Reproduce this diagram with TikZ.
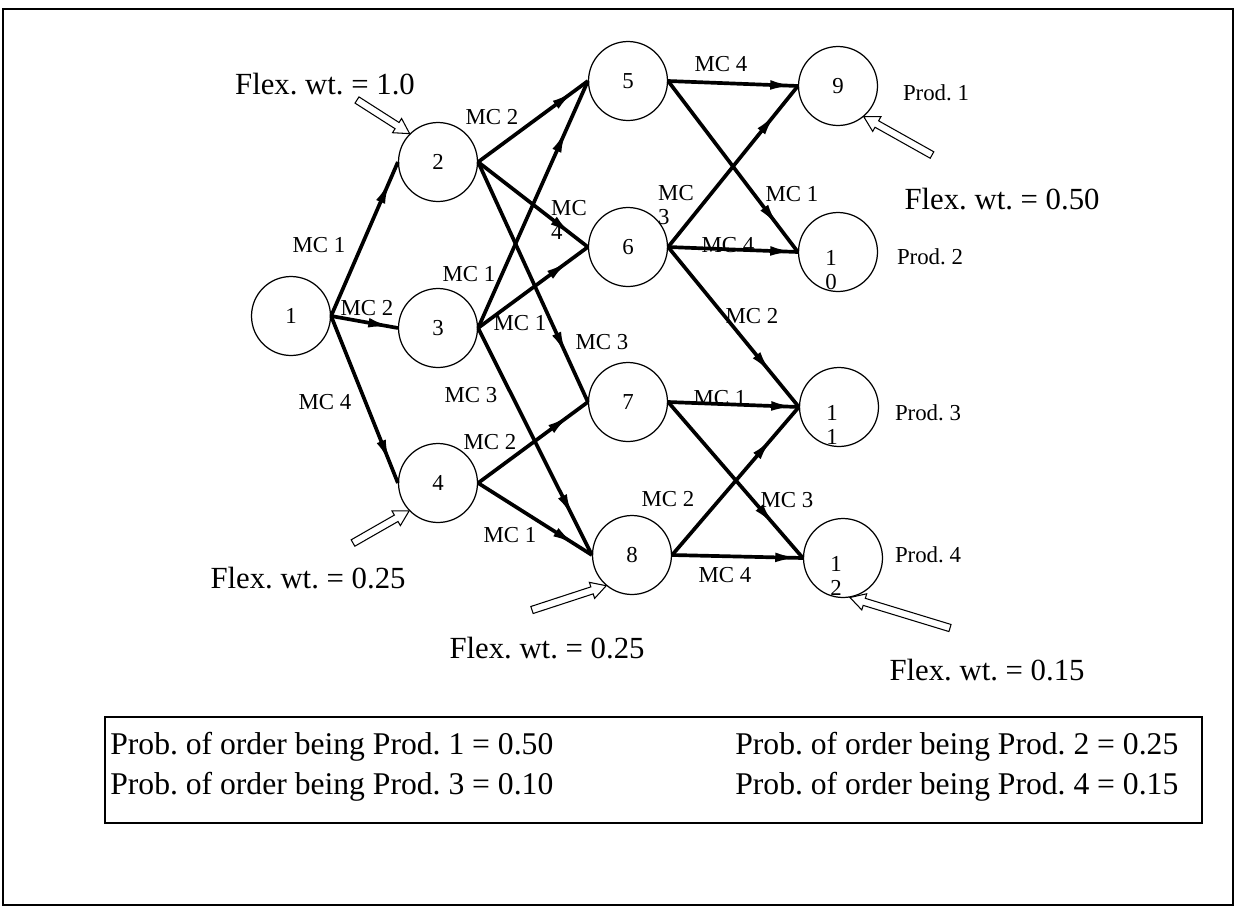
\documentclass[tikz,border=0pt]{standalone}
\usepackage{fontspec}
\setmainfont{Liberation Serif}
\usetikzlibrary{arrows.meta,decorations.markings,calc}
\frenchspacing
\newcommand\flexarrow[2]{%
  \coordinate (hb) at ($(#2)!8.5pt!(#1)$);
  \draw[line width=0.6pt, fill=white]
    ($(#1)!2.1pt!90:(#2)$) -- ($(hb)!2.1pt!90:(#2)$) -- ($(hb)!4.8pt!90:(#2)$) -- (#2)
    -- ($(hb)!4.8pt!-90:(#2)$) -- ($(hb)!2.1pt!-90:(#2)$) -- ($(#1)!2.1pt!-90:(#2)$) -- cycle;}
\begin{document}
\begin{tikzpicture}[x=0.02cm,y=-0.02cm,
  circ/.style={circle, draw, line width=0.7pt, minimum size=1.58cm, inner sep=0pt, font=\fontsize{13}{15}\selectfont},
  lab/.style={font=\fontsize{13}{13.5}\selectfont, inner sep=0pt},
  flex/.style={font=\fontsize{17.5}{20}\selectfont, inner sep=0pt},
  prob/.style={font=\fontsize{18}{20}\selectfont, inner sep=0pt, anchor=west},
  mcarrow/.style={line width=2.1pt, postaction={decorate},
    decoration={markings, mark=at position #1 with {\arrow{Latex[length=0.5cm,width=0.19cm]}}}},
  mcarrow/.default=0.85,
  stk/.style={label={[lab, align=center, xshift=-0.14cm, yshift=-0.36cm]center:#1}}
]
\useasboundingbox (0,0) rectangle (1238,910);
\draw[line width=1.2pt] (3,9) rectangle (1233,905);

% nodes
\node[circ] (n1) at (291,316) {1};
\node[circ] (n2) at (438,162) {2};
\node[circ] (n3) at (438,328) {3};
\node[circ] (n4) at (438,483) {4};
\node[circ] (n5) at (628,81) {5};
\node[circ] (n6) at (628,247) {6};
\node[circ] (n7) at (628,402) {7};
\node[circ] (n8) at (632,555) {8};
\node[circ] (n9) at (838,86) {9};
\node[circ, stk={1\\0}] (n10) at (838,252) {};
\node[circ, stk={1\\1}] (n11) at (839,407) {};
\node[circ, stk={1\\2}] (n12) at (843,558) {};

% connectors
\draw[mcarrow=0.89] (n1.east) -- (n2.west);
\draw[mcarrow=0.93] (n1.east) -- (n3.west);
\draw[mcarrow=0.89] (n1.east) -- (n4.west);
\draw[mcarrow=0.89] (n2.east) -- (n5.west);
\draw[mcarrow=0.87] (n2.east) -- (n6.west);
\draw[mcarrow=0.81] (n2.east) -- (n7.west);
\draw[mcarrow=0.81] (n3.east) -- (n5.west);
\draw[mcarrow=0.84] (n3.east) -- (n6.west);
\draw[mcarrow=0.84] (n3.east) -- (n8.west);
\draw[mcarrow=0.85] (n4.east) -- (n7.west);
\draw[mcarrow=0.87] (n4.east) -- (n8.west);
\draw[mcarrow=0.98] (n5.east) -- (n9.west);
\draw[mcarrow=0.86] (n5.east) -- (n10.west);
\draw[mcarrow=0.84] (n6.east) -- (n9.west);
\draw[mcarrow=0.98] (n6.east) -- (n10.west);
\draw[mcarrow=0.80] (n6.east) -- (n11.west);
\draw[mcarrow=0.98] (n7.east) -- (n11.west);
\draw[mcarrow=0.80] (n7.east) -- (n12.west);
\draw[mcarrow=0.80] (n8.east) -- (n11.west);
\draw[mcarrow=0.98] (n8.east) -- (n12.west);

% connector labels
\node[lab] (l12) at (319,245) {MC 1};
\node[lab] (l13) at (367,308) {MC 2};
\node[lab] (l14) at (325,402) {MC 4};
\node[lab] (l25) at (492,117) {MC 2};
\node[lab, align=left] (l26) at (569,220) {MC\\4};
\node[lab] (l35) at (469,274) {MC 1};
\node[lab] (l36) at (520,323) {MC 1};
\node[lab] (l27) at (602,342) {MC 3};
\node[lab] (l38) at (471,395) {MC 3};
\node[lab] (l47) at (490,442) {MC 2};
\node[lab] (l48) at (510,535) {MC 1};
\node[lab] (l59) at (721,64) {MC 4};
\node[lab] (l510) at (792,194) {MC 1};
\node[lab, align=left] (l69) at (676,205) {MC\\3};
\node[lab] (l610) at (728,245) {MC 4};
\node[lab] (l611) at (752,316) {MC 2};
\node[lab] (l711) at (720,398) {MC 1};
\node[lab] (l712) at (787,500) {MC 3};
\node[lab] (l811) at (668,499) {MC 2};
\node[lab] (l812) at (725,575) {MC 4};

% product labels
\node[lab] (p1) at (936,93) {Prod. 1};
\node[lab] (p2) at (930,257) {Prod. 2};
\node[lab] (p3) at (928,413) {Prod. 3};
\node[lab] (p4) at (928,555) {Prod. 4};

% flexibility weights
\node[flex] (f2) at (325,84) {Flex. wt. = 1.0};
\node[flex] (f9) at (1002,199) {Flex. wt. = 0.50};
\node[flex] (f4) at (308,578) {Flex. wt. = 0.25};
\node[flex] (f8) at (547,648) {Flex. wt. = 0.25};
\node[flex] (f12) at (987,670) {Flex. wt. = 0.15};

\coordinate (t2) at (357,100);
\coordinate (t4) at (353,543);
\coordinate (t8) at (532,610);
\coordinate (t9) at (932,155);
\coordinate (t12) at (950,628);
\flexarrow{t2}{n2.135}
\flexarrow{t4}{n4.224}
\flexarrow{t8}{n8.230}
\flexarrow{t9}{n9.-50}
\flexarrow{t12}{n12.-80}

% probability box
\draw[line width=0.9pt] (105,717) rectangle (1202,823);
\node[prob] (q1) at (110,747) {Prob. of order being Prod. 1 = 0.50};
\node[prob] (q2) at (735,747) {Prob. of order being Prod. 2 = 0.25};
\node[prob] (q3) at (110,787) {Prob. of order being Prod. 3 = 0.10};
\node[prob] (q4) at (735,787) {Prob. of order being Prod. 4 = 0.15};
\end{tikzpicture}
\end{document}
